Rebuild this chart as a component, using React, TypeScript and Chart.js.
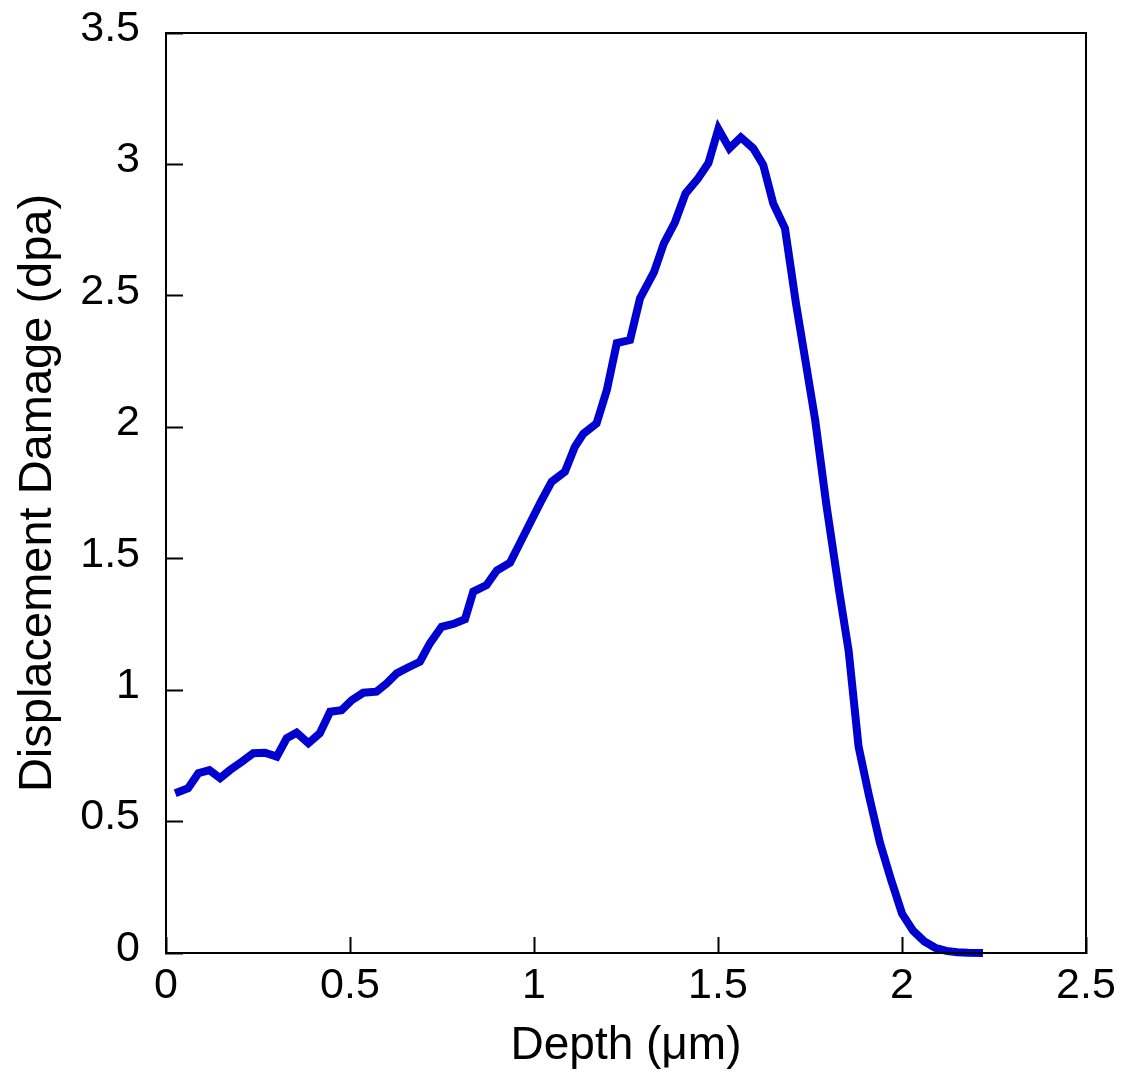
import React, { useEffect, useRef } from "react";
import { Chart, registerables } from "chart.js";

Chart.register(...registerables);

// Depth (µm) and displacement damage (dpa)
const depth = [
  0.025, 0.06, 0.088, 0.118, 0.147, 0.174, 0.206, 0.237, 0.269, 0.301,
  0.328, 0.355, 0.387, 0.418, 0.446, 0.477, 0.505, 0.536, 0.572, 0.6,
  0.627, 0.659, 0.69, 0.717, 0.749, 0.781, 0.8125, 0.835, 0.871, 0.899,
  0.935, 0.962, 0.989, 1.018, 1.048, 1.084, 1.111, 1.134, 1.17, 1.198,
  1.225, 1.261, 1.288, 1.326, 1.353, 1.383, 1.412, 1.445, 1.474, 1.501,
  1.531, 1.562, 1.596, 1.623, 1.65, 1.682, 1.712, 1.74, 1.764, 1.795,
  1.83, 1.855, 1.882, 1.91, 1.94, 1.97, 2.0, 2.03, 2.06, 2.09,
  2.12, 2.15, 2.18, 2.22,
];
const damage = [
  0.608, 0.627, 0.684, 0.696, 0.665, 0.696, 0.728, 0.76, 0.762, 0.747,
  0.817, 0.838, 0.798, 0.836, 0.918, 0.924, 0.962, 0.99, 0.994, 1.026,
  1.064, 1.087, 1.108, 1.178, 1.241, 1.252, 1.27, 1.375, 1.4, 1.455,
  1.485, 1.56, 1.635, 1.715, 1.793, 1.831, 1.926, 1.975, 2.015, 2.142,
  2.32, 2.332, 2.49, 2.59, 2.7, 2.78, 2.89, 2.945, 3.005, 3.135,
  3.061, 3.103, 3.061, 2.998, 2.852, 2.757, 2.47, 2.233, 2.028, 1.7,
  1.37, 1.15, 0.785, 0.6, 0.42, 0.28, 0.15, 0.085, 0.045, 0.02,
  0.008, 0.003, 0.001, 0.0,
];
const xTicks = [0, 0.5, 1, 1.5, 2, 2.5];
const yTicks = [0, 0.5, 1, 1.5, 2, 2.5, 3, 3.5];
const xTitle = "Depth (\u03bcm)";
const yTitle = "Displacement Damage (dpa)";

const FONT = "'Liberation Sans', Arial, sans-serif";

const framePlugin = {
  id: "frame",
  afterDatasetsDraw(chart: any) {
    const { ctx, chartArea } = chart;
    ctx.save();
    ctx.strokeStyle = "#000";
    ctx.lineWidth = 2;
    ctx.strokeRect(chartArea.left, chartArea.top, chartArea.right - chartArea.left, chartArea.bottom - chartArea.top);
    ctx.restore();
  },
};

const zeroPad = (s: any) => {
  s.paddingTop = 0;
  s.paddingBottom = 0;
  s.paddingLeft = 0;
  s.paddingRight = 0;
};

export default function App() {
  const ref = useRef<HTMLCanvasElement>(null);
  useEffect(() => {
    if (!ref.current) return;
    const chart = new Chart(ref.current, {
      type: "line",
      data: {
        datasets: [
          {
            data: depth.map((x, i) => ({ x, y: damage[i] })),
            borderColor: "#0000cf",
            borderWidth: 8,
            pointRadius: 0,
            tension: 0,
            fill: false,
            clip: false as any,
          },
        ],
      },
      options: {
        animation: false,
        responsive: true,
        maintainAspectRatio: false,
        layout: { padding: { top: 33, right: 41, left: 0, bottom: 0 }, autoPadding: false } as any,
        plugins: { legend: { display: false }, tooltip: { enabled: false } },
        scales: {
          x: {
            type: "linear",
            min: 0,
            max: 2.5,
            afterBuildTicks: (s: any) => {
              s.ticks = xTicks.map((v) => ({ value: v }));
            },
            afterFit: (s: any) => {
              s.height = 124;
              zeroPad(s);
            },
            ticks: {
              callback: (v: any) => String(v),
              color: "#000",
              font: { family: FONT, size: 43 },
              padding: 23,
              maxRotation: 0,
              autoSkip: false,
            },
            grid: {
              display: true,
              drawOnChartArea: false,
              drawTicks: true,
              tickLength: -16,
              tickWidth: 2,
              tickColor: "#000",
            },
            border: { display: true, color: "#000", width: 2 },
            title: {
              display: true,
              text: xTitle,
              color: "#000",
              font: { family: FONT, size: 46 },
              padding: { top: 0, bottom: 3 },
            },
          },
          y: {
            type: "linear",
            min: 0,
            max: 3.5,
            afterBuildTicks: (s: any) => {
              s.ticks = yTicks.map((v) => ({ value: v }));
            },
            afterFit: (s: any) => {
              s.width = 166;
              zeroPad(s);
            },
            ticks: {
              callback: (v: any) => String(v),
              color: "#000",
              font: { family: FONT, size: 43 },
              padding: 43,
              labelOffset: -4,
              autoSkip: false,
            },
            grid: {
              display: true,
              drawOnChartArea: false,
              drawTicks: true,
              tickLength: -17,
              tickWidth: 2,
              tickColor: "#000",
            },
            border: { display: true, color: "#000", width: 2 },
            title: {
              display: true,
              text: yTitle,
              color: "#000",
              font: { family: FONT, size: 47 },
              padding: { top: 10, bottom: 0 },
            },
          },
        },
      },
      plugins: [framePlugin],
    });
    return () => chart.destroy();
  }, []);

  return (
    <div style={{ position: "absolute", left: 0, top: 0, width: 1127, height: 1077, background: "#fff" }}>
      <canvas ref={ref} />
    </div>
  );
}
